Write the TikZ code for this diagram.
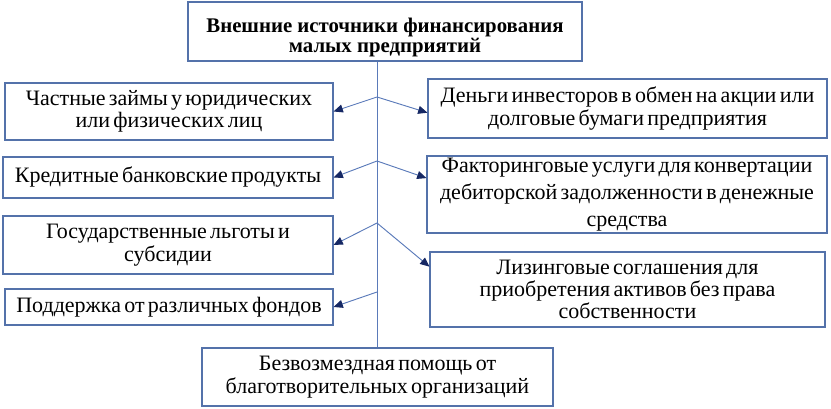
\documentclass[tikz,border=0pt]{standalone}
\usepackage{fontspec}
\setmainfont{Liberation Serif}
\usepackage{xcolor}
\usetikzlibrary{arrows.meta,positioning,calc}
\definecolor{boxline}{RGB}{84,114,170}
\definecolor{trunkcol}{RGB}{90,122,185}
\definecolor{tipcol}{RGB}{22,40,100}
\newcommand\srcfont{\fontsize{16.5pt}{16.8pt}\selectfont\spaceskip=0.15em plus 0.05em\relax}
\newcommand\widefont{\fontsize{16.5pt}{20.5pt}\selectfont\spaceskip=0.15em plus 0.05em\relax}
\tikzset{
  srcbox/.style={draw=boxline,line width=0.8pt,fill=white,align=center,inner sep=0pt,
    font=\srcfont},
  widebox/.style={srcbox,font=\widefont},
  headtext/.style={align=center,inner sep=0pt,font=\fontsize{15.6pt}{15.3pt}\selectfont\bfseries},
  trunkline/.style={draw=trunkcol,line width=0.7pt},
  srcarrow/.style={trunkline,-{Triangle[length=7pt,width=6pt,color=tipcol]}}
}

\begin{document}
\begin{tikzpicture}[x=0.75pt,y=-0.75pt]
  \useasboundingbox (0,0) rectangle (831,409);

  % заголовок и нижний блок
  \node[srcbox,minimum width=295.5pt,minimum height=44.25pt,
    label={[headtext,yshift=-4.5pt]center:Внешние источники финансирования\\малых предприятий}]
    (head) at (385,31.5) {};
  \node[srcbox,minimum width=263.25pt,minimum height=43.5pt] (gift) at (377.5,377)
    {Безвозмездная помощь от\\благотворительных организаций};

  % левая колонка
  \node[srcbox,minimum width=246pt,minimum height=42.75pt] (loan) at (169,111.5)
    {Частные займы у юридических\\или физических лиц};
  \node[srcbox,minimum width=247.5pt,minimum height=30.75pt] (bank) at (168,177.5)
    {Кредитные банковские продукты};
  \node[srcbox,minimum width=247.5pt,minimum height=43.5pt] (state) at (168,245)
    {Государственные льготы и\\субсидии};
  \node[srcbox,minimum width=246pt,minimum height=27pt] (fund) at (169,307)
    {Поддержка от различных фондов};

  % правая колонка
  \node[srcbox,minimum width=299.25pt,minimum height=44.25pt] (invest) at (627.5,108.5)
    {Деньги инвесторов в обмен на акции или\\долговые бумаги предприятия};
  \node[widebox,minimum width=300pt,minimum height=57.75pt] (factor) at (627,194.5)
    {Факторинговые услуги для конвертации\\дебиторской задолженности в денежные\\средства};
  \node[srcbox,minimum width=296.25pt,minimum height=56.25pt] (lease) at (627.5,289.5)
    {Лизинговые соглашения для\\приобретения активов без права\\собственности};

  % ствол и ответвления
  \coordinate (j1) at (377,97);
  \coordinate (j2) at (377,161);
  \coordinate (j3) at (377,223);
  \coordinate (j4) at (377,292);
  \draw[trunkline] (gift.north |- head.south) -- (gift.north);

  \draw[srcarrow] (j1) -- (loan.east);
  \draw[srcarrow] (j1) -- ($(invest.north west)!0.57!(invest.south west)$);
  \draw[srcarrow] (j2) -- (bank.east);
  \draw[srcarrow] (j2) -- ($(factor.north west)!0.29!(factor.south west)$);
  \draw[srcarrow] (j3) -- (state.east);
  \draw[srcarrow] (j3) -- ($(lease.north west)!0.2!(lease.south west)$);
  \draw[srcarrow] (j4) -- (fund.east);
\end{tikzpicture}
\end{document}
